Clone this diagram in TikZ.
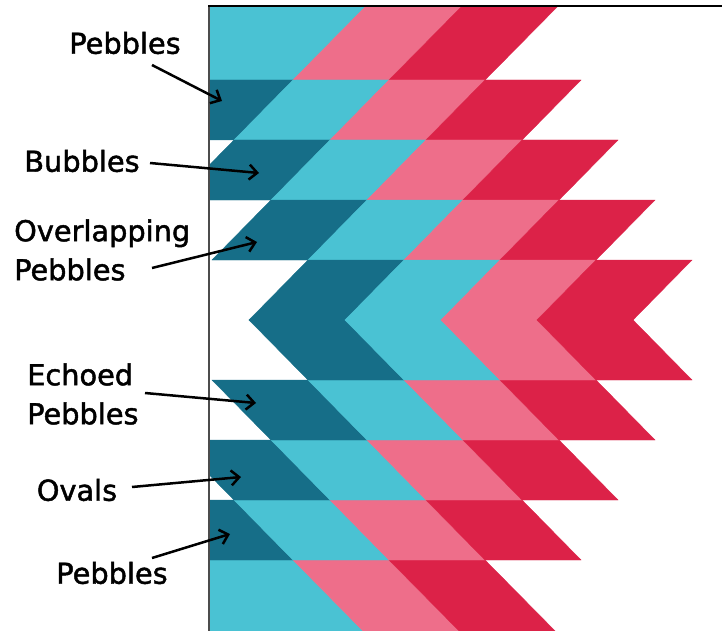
\documentclass[tikz,border=0pt]{standalone}
\usepackage{fontspec}
\newfontfamily\lblfont{DejaVu Sans}[BoldFont={DejaVu Sans}, BoldFeatures={FakeBold=1.6}]
\usetikzlibrary{arrows.meta}
\definecolor{qteal}{RGB}{22,110,136}
\definecolor{qcyan}{RGB}{74,194,211}
\definecolor{qpink}{RGB}{238,110,138}
\definecolor{qred}{RGB}{220,34,72}
\tikzset{
  patch/.style={fill=#1, draw=#1, line width=0.4pt, line join=miter},
  lbl/.style={font=\lblfont\bfseries\fontsize{28.8}{39}\selectfont, inner sep=0pt, align=left, text=black},
  pointer/.style={line width=2.5pt, black, -{Straight Barb[length=8pt,width=15pt]}},
}
\newcommand{\quilthalf}{%
  % row 1 (top, cyan extends to the left edge)
  \fill[patch=qcyan] (150,0) -- (372,0) -- (293,80) -- (150,80) -- cycle;
  \fill[patch=qpink] (372,0) -- (468,0) -- (389,80) -- (293,80) -- cycle;
  \fill[patch=qred] (468,0) -- (564,0) -- (485,80) -- (389,80) -- cycle;
  % rows 2..5
  \foreach \yt/\tr in {80/293,140/330,200/367,260/404}{
    \foreach \c [count=\j from 0] in {qteal,qcyan,qpink,qred}{
      \fill[patch=\c] (\tr-96+96*\j,\yt) -- (\tr+96*\j,\yt)
        -- (\tr+96*\j-59,\yt+60) -- (\tr-96+96*\j-59,\yt+60) -- cycle;
    }
  }
}
\begin{document}
\begin{tikzpicture}[x=1pt,y=-1pt]
  \useasboundingbox (0,0) rectangle (722,631);
  \fill[white] (0,0) rectangle (722,631);
  \begin{scope}
    \clip (209,7) rectangle (722,631);
    \quilthalf
    \begin{scope}[shift={(0,640)}, yscale=-1]
      \quilthalf
    \end{scope}
  \end{scope}
  % frame lines
  \draw[line width=1.5pt, black!70] (209,6) -- (209,631);
  \draw[line width=2pt, black] (208.25,6) -- (722,6);
  % labels
  \node[lbl] (l1) at (125,43) {Pebbles};
  \node[lbl] (l2) at (82,161) {Bubbles};
  \node[lbl, anchor=west] (l3) at (14,250) {Overlapping\\Pebbles};
  \node[lbl, anchor=west] (l4) at (27,394) {Echoed\\Pebbles};
  \node[lbl] (l5) at (77,490) {Ovals};
  \node[lbl] (l6) at (112,573) {Pebbles};
  % arrow ends
  \coordinate (s1) at (152,65);  \coordinate (t1) at (222,101);
  \coordinate (s2) at (150,163); \coordinate (t2) at (259,173);
  \coordinate (s3) at (152,268); \coordinate (t3) at (257,242);
  \coordinate (s4) at (145,393); \coordinate (t4) at (256,403);
  \coordinate (s5) at (132,487); \coordinate (t5) at (241,477);
  \coordinate (s6) at (152,558); \coordinate (t6) at (230,534);
  \draw[pointer] (s1) -- (t1);
  \draw[pointer] (s2) -- (t2);
  \draw[pointer] (s3) -- (t3);
  \draw[pointer] (s4) -- (t4);
  \draw[pointer] (s5) -- (t5);
  \draw[pointer] (s6) -- (t6);
\end{tikzpicture}
\end{document}
